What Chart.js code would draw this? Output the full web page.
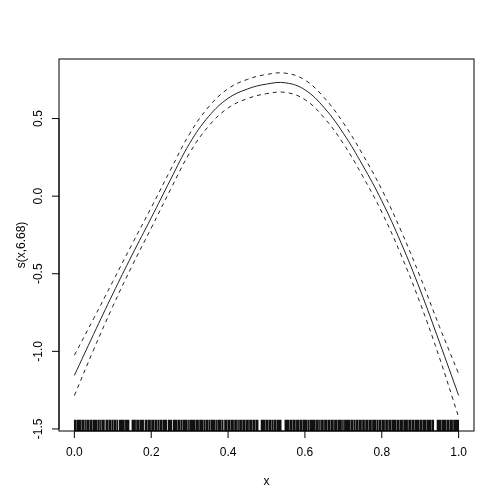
<!DOCTYPE html>
<html>
<head>
<meta charset="utf-8">
<script src="https://cdn.jsdelivr.net/npm/chart.js@4"></script>
<style>
    html, body { margin: 0; padding: 0; background: #fff; }
    canvas { display: block; }
</style>
</head>
<body>
<canvas id="gam-plot" width="504" height="504"></canvas>
<script>
/* ---------- Data ---------- */
const xGrid = [0, 0.05, 0.1, 0.15, 0.2, 0.25, 0.3, 0.35, 0.4, 0.45, 0.5,
               0.55, 0.6, 0.65, 0.7, 0.75, 0.8, 0.85, 0.9, 0.95, 1];
const fit   = [-1.155, -0.89, -0.63, -0.38, -0.14, 0.105, 0.34, 0.515, 0.63, 0.69, 0.722,
               0.73, 0.685, 0.57, 0.405, 0.2, -0.03, -0.3, -0.605, -0.94, -1.284];
const upper = [-1.025, -0.79, -0.55, -0.31, -0.074, 0.168, 0.402, 0.577, 0.692, 0.752, 0.784,
               0.792, 0.748, 0.635, 0.472, 0.27, 0.043, -0.222, -0.52, -0.84, -1.144];
const lower = [-1.285, -0.99, -0.71, -0.45, -0.206, 0.042, 0.278, 0.453, 0.568, 0.628, 0.66,
               0.668, 0.622, 0.505, 0.338, 0.13, -0.103, -0.378, -0.69, -1.04, -1.424];

// covariate values shown in the rug
const rugX = [
    0.001, 0.004, 0.009, 0.012, 0.016, 0.021, 0.023, 0.028, 0.033, 0.036, 0.041, 0.044, 0.049,
    0.053, 0.057, 0.062, 0.064, 0.069, 0.074, 0.077, 0.083, 0.086, 0.091, 0.094, 0.099, 0.104,
    0.107, 0.112, 0.118, 0.121, 0.125, 0.129, 0.134, 0.137, 0.141, 0.151, 0.155, 0.158, 0.163,
    0.167, 0.172, 0.176, 0.179, 0.185, 0.188, 0.193, 0.197, 0.202, 0.206, 0.211, 0.214, 0.219,
    0.224, 0.227, 0.232, 0.236, 0.239, 0.245, 0.249, 0.252, 0.258, 0.262, 0.266, 0.271, 0.274,
    0.279, 0.284, 0.288, 0.291, 0.296, 0.301, 0.305, 0.309, 0.313, 0.318, 0.322, 0.327, 0.331,
    0.334, 0.339, 0.344, 0.347, 0.352, 0.357, 0.361, 0.364, 0.369, 0.374, 0.378, 0.381, 0.386,
    0.392, 0.396, 0.401, 0.404, 0.409, 0.413, 0.418, 0.421, 0.426, 0.431, 0.434, 0.439, 0.443,
    0.448, 0.452, 0.457, 0.461, 0.466, 0.469, 0.474, 0.477, 0.487, 0.491, 0.494, 0.499, 0.503,
    0.508, 0.511, 0.516, 0.521, 0.524, 0.529, 0.533, 0.537, 0.549, 0.553, 0.557, 0.562, 0.566,
    0.571, 0.574, 0.579, 0.583, 0.588, 0.592, 0.597, 0.601, 0.604, 0.609, 0.614, 0.618, 0.622,
    0.626, 0.631, 0.634, 0.639, 0.644, 0.647, 0.652, 0.656, 0.661, 0.664, 0.669, 0.673, 0.678,
    0.682, 0.687, 0.691, 0.694, 0.699, 0.704, 0.708, 0.712, 0.716, 0.721, 0.724, 0.729, 0.734,
    0.737, 0.742, 0.746, 0.751, 0.754, 0.759, 0.763, 0.768, 0.772, 0.777, 0.781, 0.784, 0.789,
    0.794, 0.797, 0.802, 0.806, 0.811, 0.814, 0.819, 0.823, 0.828, 0.832, 0.836, 0.841, 0.844,
    0.849, 0.853, 0.858, 0.862, 0.866, 0.871, 0.874, 0.879, 0.883, 0.888, 0.892, 0.896, 0.901,
    0.904, 0.909, 0.913, 0.918, 0.922, 0.926, 0.931, 0.934, 0.945, 0.949, 0.953, 0.958, 0.962,
    0.966, 0.971, 0.974, 0.979, 0.983, 0.988, 0.992, 0.996, 0.999
];

const xTicks = [0, 0.2, 0.4, 0.6, 0.8, 1.0];
const xTickLabels = ['0.0', '0.2', '0.4', '0.6', '0.8', '1.0'];
const yTicks = [-1.5, -1.0, -0.5, 0, 0.5];
const yTickLabels = ['-1.5', '-1.0', '-0.5', '0.0', '0.5'];
const xTitle = 'x';
const yTitle = 's(x,6.68)';

/* ---------- Helpers ---------- */
function toPoints(ys) {
    return xGrid.map((x, i) => ({ x: x, y: ys[i] }));
}

const FONT = '12px "Liberation Sans", Arial, Helvetica, sans-serif';

// R-style frame, axes, labels and rug
const rPlotDecor = {
    id: 'rPlotDecor',
    afterDatasetsDraw(chart) {
        const ctx = chart.ctx;
        const area = chart.chartArea;
        const xs = chart.scales.x;
        const ys = chart.scales.y;
        const tickLen = 7;

        ctx.save();
        ctx.fillStyle = '#000';

        // rug along bottom
        const rugH = (area.bottom - area.top) * 0.03;
        ctx.lineWidth = 1.6;
        ctx.strokeStyle = '#111';
        ctx.beginPath();
        rugX.forEach(v => {
            const px = xs.getPixelForValue(v);
            ctx.moveTo(px, area.bottom);
            ctx.lineTo(px, area.bottom - rugH);
        });
        ctx.stroke();

        ctx.lineWidth = 1;
        ctx.strokeStyle = '#000';

        // box
        ctx.strokeRect(area.left, area.top, area.right - area.left, area.bottom - area.top);

        // x axis
        ctx.beginPath();
        ctx.moveTo(xs.getPixelForValue(xTicks[0]), area.bottom);
        ctx.lineTo(xs.getPixelForValue(xTicks[xTicks.length - 1]), area.bottom);
        xTicks.forEach(v => {
            const px = xs.getPixelForValue(v);
            ctx.moveTo(px, area.bottom);
            ctx.lineTo(px, area.bottom + tickLen);
        });
        ctx.stroke();

        // y axis
        ctx.beginPath();
        ctx.moveTo(area.left, ys.getPixelForValue(yTicks[0]));
        ctx.lineTo(area.left, ys.getPixelForValue(yTicks[yTicks.length - 1]));
        yTicks.forEach(v => {
            const py = ys.getPixelForValue(v);
            ctx.moveTo(area.left, py);
            ctx.lineTo(area.left - tickLen, py);
        });
        ctx.stroke();

        ctx.font = FONT;
        ctx.textAlign = 'center';
        ctx.textBaseline = 'middle';

        xTicks.forEach((v, i) => {
            ctx.fillText(xTickLabels[i], xs.getPixelForValue(v), area.bottom + 22);
        });
        ctx.fillText(xTitle, (area.left + area.right) / 2, area.bottom + 51);

        yTicks.forEach((v, i) => {
            ctx.save();
            ctx.translate(area.left - 20, ys.getPixelForValue(v));
            ctx.rotate(-Math.PI / 2);
            ctx.fillText(yTickLabels[i], 0, 0);
            ctx.restore();
        });

        ctx.save();
        ctx.translate(area.left - 37, (area.top + area.bottom) / 2);
        ctx.rotate(-Math.PI / 2);
        ctx.fillText(yTitle, 0, 0);
        ctx.restore();

        ctx.restore();
    }
};

/* ---------- Chart ---------- */
const lineStyle = {
    borderColor: '#222',
    borderWidth: 1,
    pointRadius: 0,
    fill: false,
    tension: 0.4
};

new Chart(document.getElementById('gam-plot').getContext('2d'), {
    type: 'line',
    data: {
        datasets: [
            Object.assign({ label: 'fit', data: toPoints(fit) }, lineStyle),
            Object.assign({ label: 'upper', data: toPoints(upper), borderDash: [4, 4] }, lineStyle),
            Object.assign({ label: 'lower', data: toPoints(lower), borderDash: [4, 4] }, lineStyle)
        ]
    },
    options: {
        responsive: false,
        animation: false,
        devicePixelRatio: 1,
        layout: { padding: { left: 59, top: 59, right: 30, bottom: 73 } },
        plugins: {
            legend: { display: false },
            tooltip: { enabled: false }
        },
        scales: {
            x: { type: 'linear', min: -0.04, max: 1.04, display: false },
            y: { type: 'linear', min: -1.5132, max: 0.8836, display: false }
        }
    },
    plugins: [rPlotDecor]
});
</script>
</body>
</html>
